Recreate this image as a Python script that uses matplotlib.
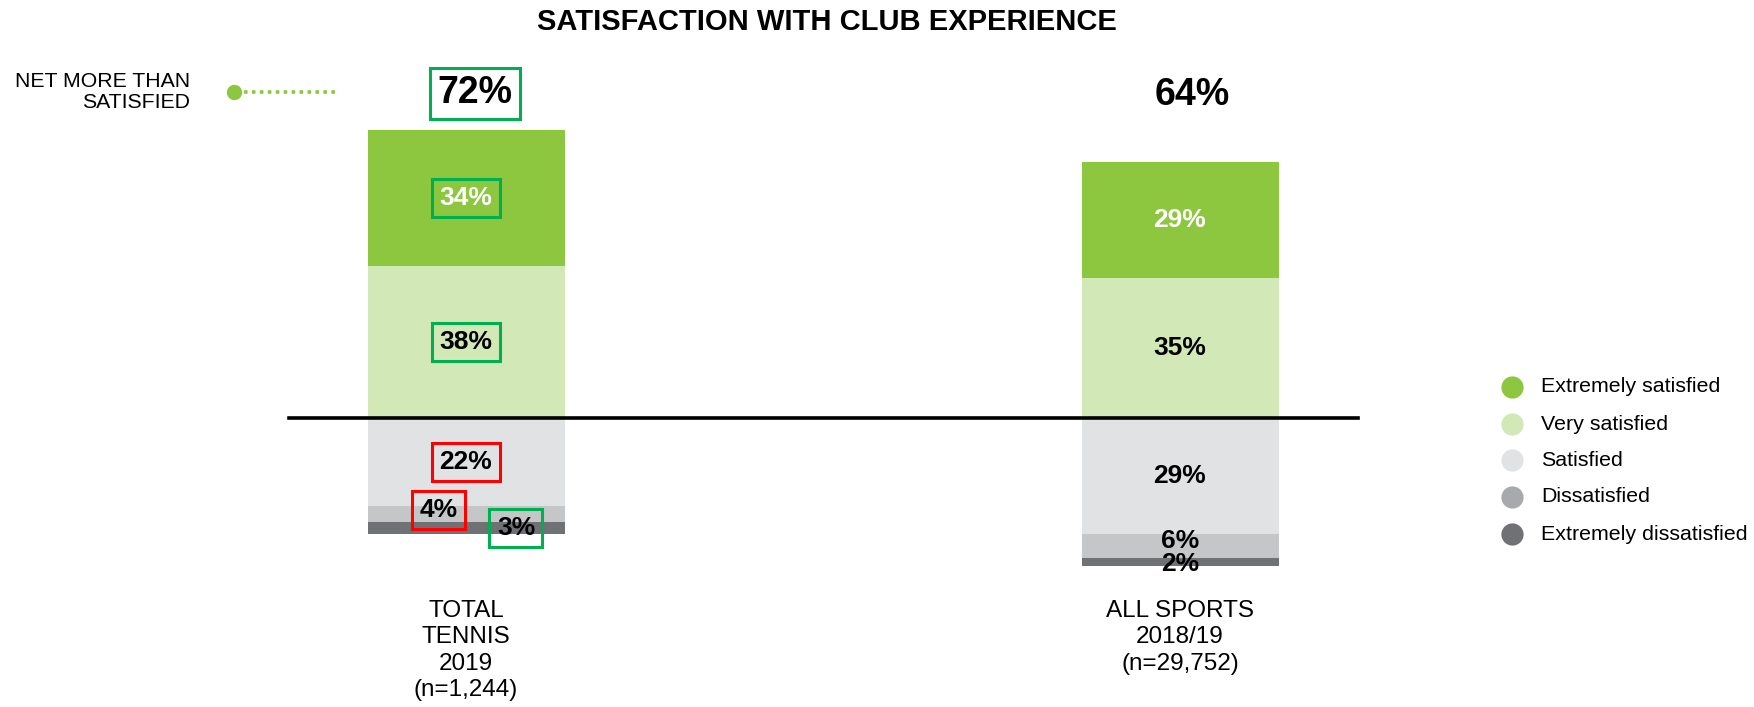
import matplotlib
matplotlib.use('Agg')
from matplotlib import pyplot as plt
import numpy as np

plt.rcParams['font.family'] = ['Liberation Sans', 'DejaVu Sans']

# data
groups = ['TOTAL\nTENNIS\n2019\n(n=1,244)', 'ALL SPORTS\n2018/19\n(n=29,752)']
net_more = ['72%', '64%']
ext_sat = [34, 29]
very_sat = [38, 35]
satisfied = [22, 29]
dissat = [4, 6]
ext_dissat = [3, 2]
legend_labels = ['Extremely satisfied', 'Very satisfied', 'Satisfied',
                 'Dissatisfied', 'Extremely dissatisfied']

# colours
c_ext = '#8DC63F'
c_very = '#D2E8B6'
c_sat = '#E1E2E4'
c_dis = '#C5C6C8'
c_edis = '#707175'
legend_colors = [c_ext, c_very, c_sat, '#A7A9AC', c_edis]
green_box = '#00B050'
red_box = '#FF0000'

W, H = 1754, 707
fig = plt.figure(figsize=(W / 100, H / 100), dpi=100)
ax = fig.add_axes([0, 0, 1, 1])

# layout: bar 0 centred at 466px, 714px per category, 4px per percent, zero line at 418px
x0, xstep, y0, ystep = 466, 714, 418, 4.0
ax.set_xlim(-x0 / xstep, (W - x0) / xstep)
ax.set_ylim(-(H - y0) / ystep, y0 / ystep)
ax.axis('off')


def dx(p):
    return (p - x0) / xstep


def dy(p):
    return (y0 - p) / ystep


x = np.arange(len(groups))
w = 197 / xstep
sat = np.array(satisfied)
dis = np.array(dissat)
edis = np.array(ext_dissat)

ax.bar(x, very_sat, w, color=c_very)
ax.bar(x, ext_sat, w, bottom=very_sat, color=c_ext)
ax.bar(x, -sat, w, color=c_sat)
ax.bar(x, -dis, w, bottom=-sat, color=c_dis)
ax.bar(x, -edis, w, bottom=-(sat + dis), color=c_edis)

ax.plot([-0.248, 1.249], [0, 0], color='black', lw=2.6)

lab = dict(ha='center', va='center', fontsize=19, fontweight='bold')


def boxed(ec):
    return dict(boxstyle='square,pad=0.28', fc='none', ec=ec, lw=2.2)


# tennis labels (boxed)
ax.text(0, very_sat[0] + ext_sat[0] / 2, f'{ext_sat[0]}%', color='white',
        bbox=boxed(green_box), **lab)
ax.text(0, very_sat[0] / 2, f'{very_sat[0]}%', color='black', bbox=boxed(green_box), **lab)
ax.text(0, -satisfied[0] / 2, f'{satisfied[0]}%', color='black', bbox=boxed(red_box), **lab)
ax.text(-0.038, -satisfied[0] - dissat[0] / 2 + 1, f'{dissat[0]}%', color='black',
        bbox=boxed(red_box), **lab)
ax.text(0.07, -satisfied[0] - dissat[0] - ext_dissat[0] / 2, f'{ext_dissat[0]}%',
        color='black', bbox=boxed(green_box), **lab)

# all sports labels
ax.text(1, very_sat[1] + ext_sat[1] / 2, f'{ext_sat[1]}%', color='white', **lab)
ax.text(1, very_sat[1] / 2, f'{very_sat[1]}%', color='black', **lab)
ax.text(1, -satisfied[1] / 2, f'{satisfied[1]}%', color='black', **lab)
ax.text(1, -satisfied[1] - dissat[1] / 2 + 1.2, f'{dissat[1]}%', color='black', **lab)
ax.text(1, -satisfied[1] - dissat[1] - ext_dissat[1] / 2 - 0.5, f'{ext_dissat[1]}%',
        color='black', **lab)

# net totals
ax.text(0.013, 81.2, net_more[0], ha='center', va='center', fontsize=27, fontweight='bold',
        bbox=dict(boxstyle='square,pad=0.2', fc='none', ec=green_box, lw=2.2))
ax.text(1.017, 80.8, net_more[1], ha='center', va='center', fontsize=27, fontweight='bold')

# category labels
for i, g in enumerate(groups):
    ax.text(i, dy(600), g, ha='center', va='top', fontsize=17.5, linespacing=1.26)

# title
fig.text(827 / W, 1 - 22 / H, 'SATISFACTION WITH CLUB EXPERIENCE', ha='center', va='center',
         fontsize=21, fontweight='bold')

# net more than satisfied marker
fig.text(190 / W, 1 - 92 / H, 'NET MORE THAN\nSATISFIED', ha='right', va='center',
         fontsize=15.3, linespacing=1.15, multialignment='right')
ax.plot([dx(236), dx(336)], [dy(92), dy(92)], ls=(0, (1, 1.2)), color=c_ext, lw=2.6)
ax.plot([dx(234)], [dy(92)], marker='o', ms=10, color=c_ext)

# legend
leg_y = [387, 424, 460, 497, 534]
for c, t, yy in zip(legend_colors, legend_labels, leg_y):
    ax.plot([dx(1512)], [dy(yy)], marker='o', ms=16, color=c, mec='none')
    ax.text(dx(1541), dy(yy), t, ha='left', va='center', fontsize=15.4)

fig.savefig('out.png', dpi=100)
